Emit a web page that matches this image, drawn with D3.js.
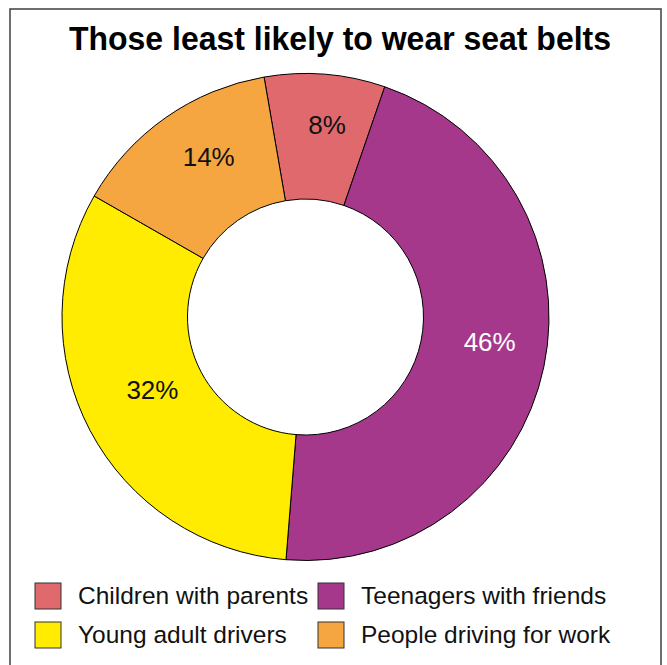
<!DOCTYPE html>
<html>
<head>
<meta charset="utf-8">
<script src="https://cdn.jsdelivr.net/npm/d3@7/dist/d3.min.js"></script>
<style>
  html, body { margin: 0; padding: 0; background: #fff; }
  svg { display: block; font-family: "Liberation Sans", Arial, Helvetica, sans-serif; }
</style>
</head>
<body>
<svg id="chart" width="667" height="665"></svg>
<script>
// Share of people least likely to wear seat belts (percent)
const categories = ["Children with parents", "Teenagers with friends", "Young adult drivers", "People driving for work"];
const values = [8, 46, 32, 14];
const colors = ["#E0696D", "#A6388B", "#FFEC00", "#F5A641"];
const labelColors = ["#111", "#fff", "#111", "#111"];
const title = "Those least likely to wear seat belts";

const W = 667, H = 665;
const svg = d3.select("#chart");

// frame
svg.append("rect")
  .attr("x", 10).attr("y", 9)
  .attr("width", 651).attr("height", 680)
  .attr("fill", "none")
  .attr("stroke", "#4a4a4a")
  .attr("stroke-width", 1.6);

// title
svg.append("text")
  .attr("x", 340).attr("y", 49.5)
  .attr("text-anchor", "middle")
  .attr("font-size", 33)
  .attr("font-weight", "bold")
  .attr("fill", "#000")
  .attr("textLength", 542)
  .attr("lengthAdjust", "spacingAndGlyphs")
  .text(title);

// donut
const cx = 305.5, cy = 317, outerR = 243.5, innerR = 118;
const startDeg = -9.8;
const toRad = d => d * Math.PI / 180;

const pie = d3.pie()
  .sort(null)
  .value(d => d.value)
  .startAngle(toRad(startDeg))
  .endAngle(toRad(startDeg + 360));

const data = categories.map((c, i) => ({ name: c, value: values[i], color: colors[i], label: labelColors[i] }));
const arcs = pie(data);

const arc = d3.arc().innerRadius(innerR).outerRadius(outerR);
const labelR = 181;
const labelArc = d3.arc().innerRadius(labelR).outerRadius(labelR);

const g = svg.append("g").attr("transform", `translate(${cx},${cy})`);

g.selectAll("path.slice")
  .data(arcs)
  .join("path")
  .attr("class", "slice")
  .attr("d", arc)
  .attr("fill", d => d.data.color)
  .attr("stroke", "#000")
  .attr("stroke-width", 1);

// percentage labels, their ring sits slightly up and right of the donut centre
const labelShift = [7, -12];
g.selectAll("text.pct")
  .data(arcs)
  .join("text")
  .attr("class", "pct")
  .attr("transform", d => {
    const [x, y] = labelArc.centroid(d);
    return `translate(${x + labelShift[0]},${y + labelShift[1]})`;
  })
  .attr("text-anchor", "middle")
  .attr("dy", "0.36em")
  .attr("font-size", 26)
  .attr("fill", d => d.data.label)
  .text(d => d.data.value + "%");

// legend: two columns, two rows
const legendCols = [35, 318];
const legendRows = [583, 622];
const box = 26;
const legend = svg.append("g");
data.forEach((d, i) => {
  const x = legendCols[i % 2];
  const y = legendRows[Math.floor(i / 2)];
  legend.append("rect")
    .attr("x", x).attr("y", y)
    .attr("width", box).attr("height", box)
    .attr("fill", d.color)
    .attr("stroke", "#333")
    .attr("stroke-width", 1);
  legend.append("text")
    .attr("x", x + 43)
    .attr("y", y + 20.5)
    .attr("font-size", 24.5)
    .attr("fill", "#111")
    .text(d.name);
});
</script>
</body>
</html>
